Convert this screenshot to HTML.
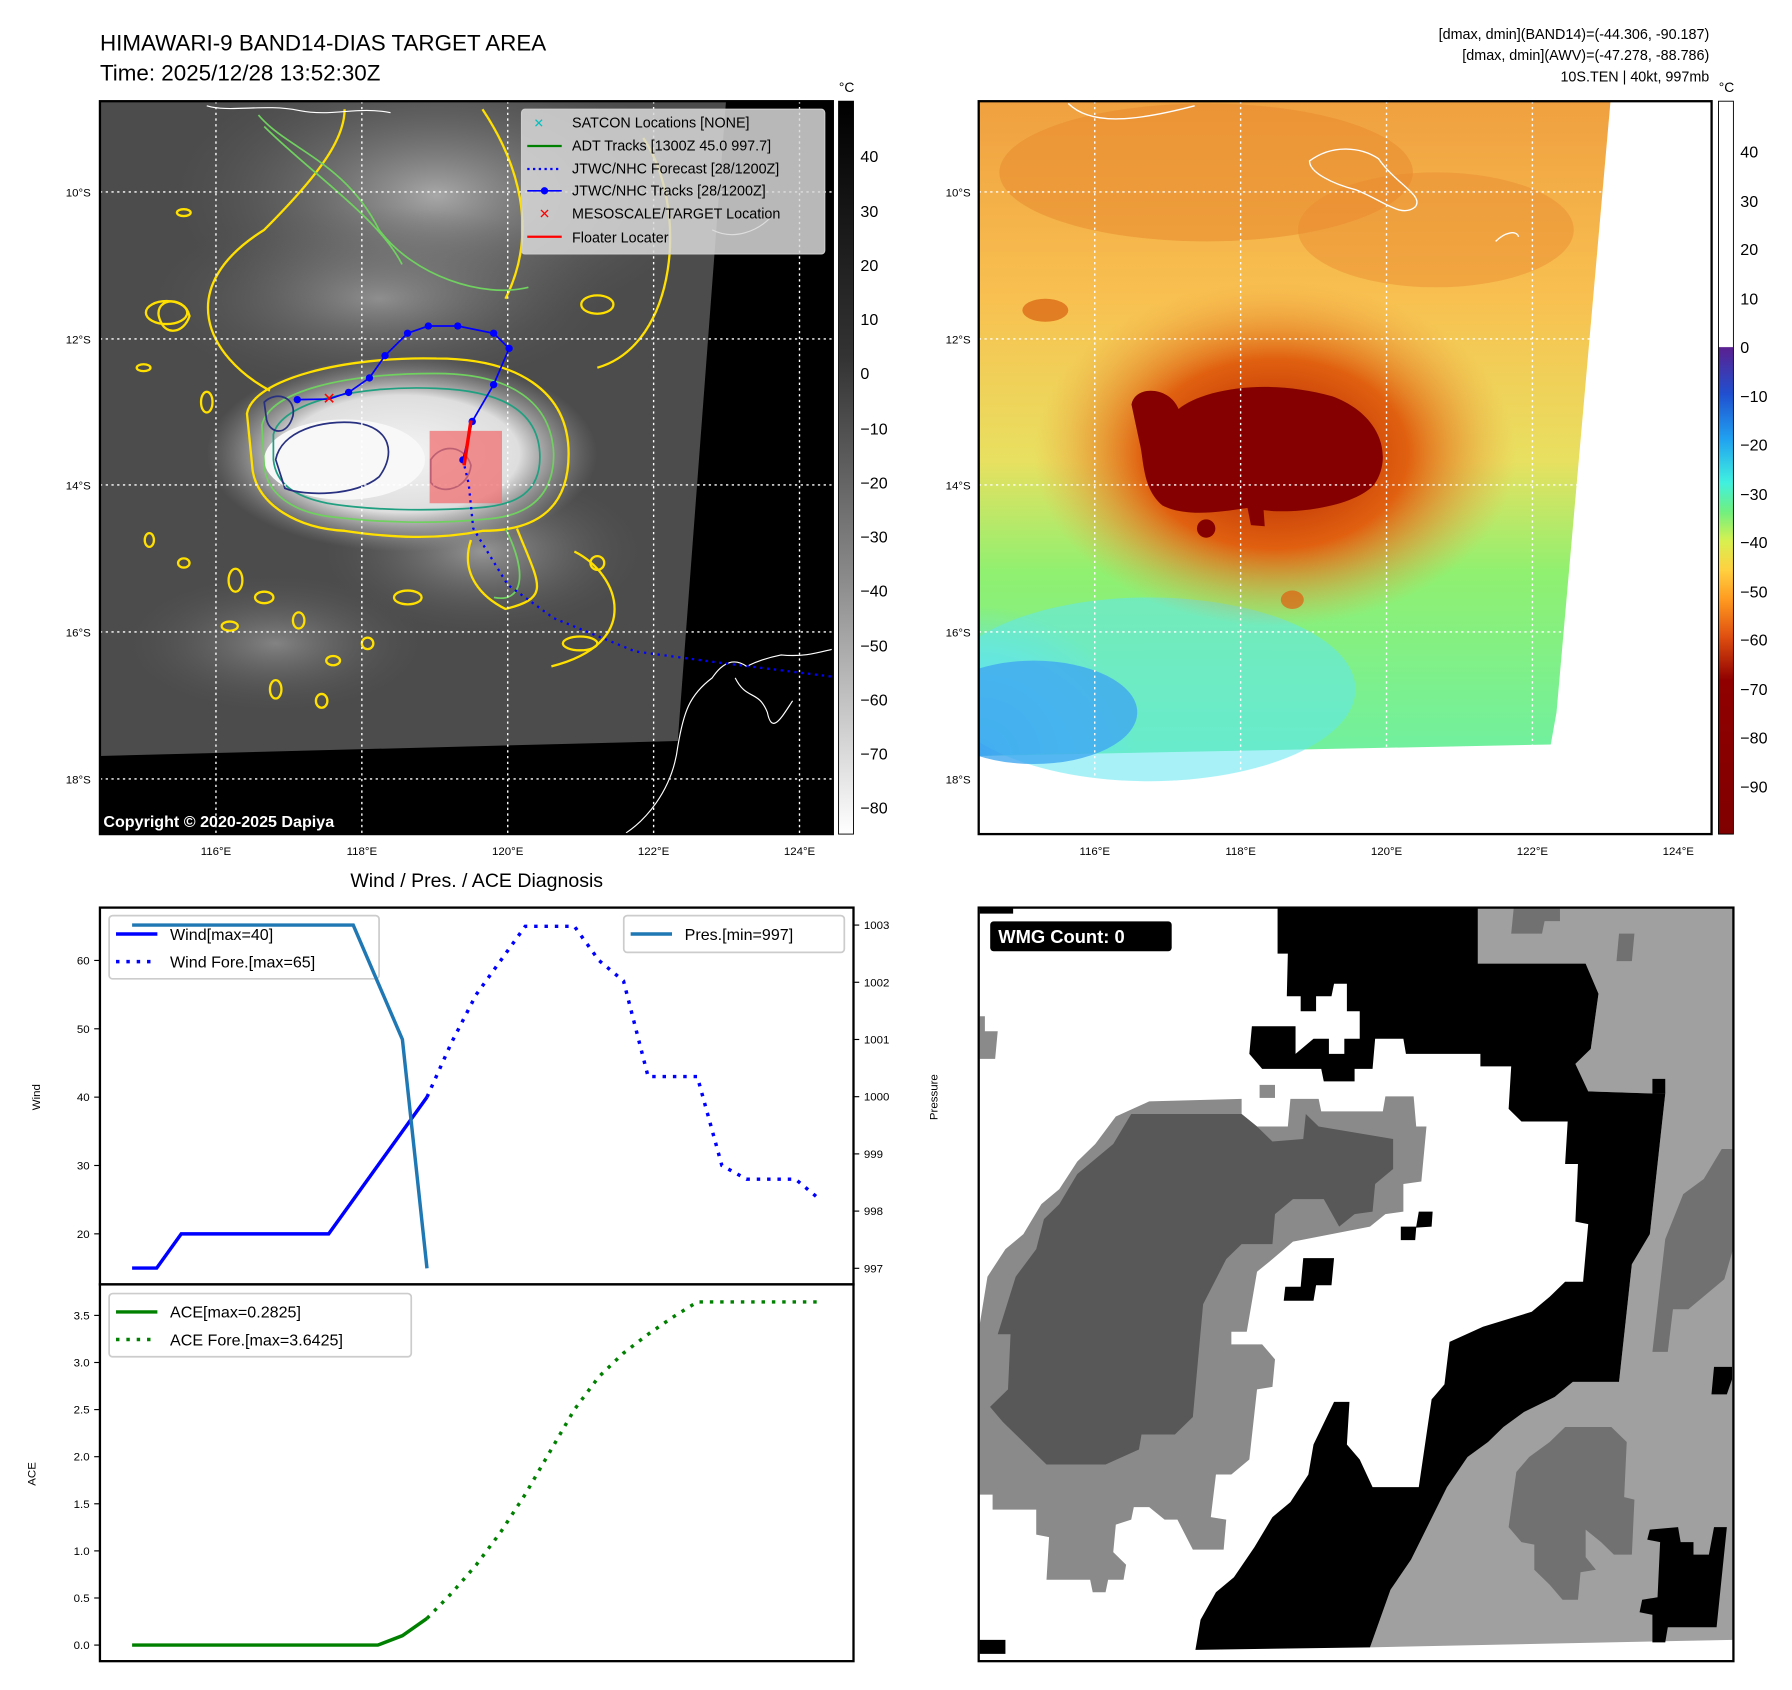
<!DOCTYPE html>
<html><head><meta charset="utf-8">
<style>
html,body{margin:0;padding:0;background:#fff;}
svg{display:block;font-family:"Liberation Sans","DejaVu Sans",sans-serif;}
</style></head>
<body>
<svg id="fig" width="1792" height="1690" viewBox="0 0 1560 1471" xmlns="http://www.w3.org/2000/svg">
<defs>
  <linearGradient id="cb1" x1="0" y1="0" x2="0" y2="1">
    <stop offset="0" stop-color="#000"/><stop offset="0.35" stop-color="#333"/><stop offset="0.65" stop-color="#8a8a8a"/><stop offset="1" stop-color="#fff"/>
  </linearGradient>
  <linearGradient id="cb2" x1="0" y1="0" x2="0" y2="1">
    <stop offset="0" stop-color="#fff"/><stop offset="0.335" stop-color="#fff"/>
    <stop offset="0.336" stop-color="#5a2090"/><stop offset="0.40" stop-color="#2050d0"/>
    <stop offset="0.46" stop-color="#20a0f0"/><stop offset="0.52" stop-color="#40f0e0"/>
    <stop offset="0.56" stop-color="#70f080"/><stop offset="0.60" stop-color="#d8f050"/>
    <stop offset="0.64" stop-color="#ffd040"/><stop offset="0.68" stop-color="#ff9a20"/>
    <stop offset="0.73" stop-color="#e05010"/><stop offset="0.79" stop-color="#900000"/>
    <stop offset="1" stop-color="#800000"/>
  </linearGradient>
  <linearGradient id="ir2" x1="0" y1="0" x2="0" y2="1">
    <stop offset="0" stop-color="#f0a040"/><stop offset="0.3" stop-color="#f8c050"/>
    <stop offset="0.55" stop-color="#e8e060"/><stop offset="0.72" stop-color="#90f070"/>
    <stop offset="1" stop-color="#70f0a0"/>
  </linearGradient>
  <radialGradient id="blueCorner" cx="0" cy="1" r="0.6">
    <stop offset="0" stop-color="#3aa0f0"/><stop offset="0.6" stop-color="#60e0f0" stop-opacity="0.7"/><stop offset="1" stop-color="#60e0f0" stop-opacity="0"/>
  </radialGradient>
  <radialGradient id="halo" cx="0.5" cy="0.5" r="0.5">
    <stop offset="0" stop-color="#b02000"/><stop offset="0.55" stop-color="#e06010"/><stop offset="1" stop-color="#f0a040" stop-opacity="0"/>
  </radialGradient>
  <radialGradient id="core1" cx="0.5" cy="0.5" r="0.5">
    <stop offset="0" stop-color="#f4f4f4"/><stop offset="0.6" stop-color="#dedede"/><stop offset="1" stop-color="#9a9a9a" stop-opacity="0"/>
  </radialGradient>
  <radialGradient id="cloudTop" cx="0.5" cy="0.5" r="0.5">
    <stop offset="0" stop-color="#a8a8a8"/><stop offset="1" stop-color="#5a5a5a" stop-opacity="0"/>
  </radialGradient>
  <clipPath id="clipL"><rect x="87" y="88" width="638" height="638"/></clipPath>
  <clipPath id="clipR"><rect x="852" y="88" width="638" height="638"/></clipPath>
  <clipPath id="clipW"><rect x="852" y="790" width="657" height="656"/></clipPath>
</defs>

<text x="87" y="44" font-size="19.5">HIMAWARI-9 BAND14-DIAS TARGET AREA</text>
<text x="87" y="70" font-size="19.5">Time: 2025/12/28 13:52:30Z</text>
<g font-size="12.5" text-anchor="end">
  <text x="1488" y="34">[dmax, dmin](BAND14)=(-44.306, -90.187)</text>
  <text x="1488" y="52">[dmax, dmin](AWV)=(-47.278, -88.786)</text>
  <text x="1488" y="71">10S.TEN | 40kt, 997mb</text>
</g>

<!-- Left IR map -->
<g clip-path="url(#clipL)">
  <rect x="87" y="88" width="638" height="638" fill="#000"/>
  <polygon points="87,88 632,88 590,645 87,658" fill="#4c4c4c"/>
  <ellipse cx="380" cy="170" rx="230" ry="120" fill="url(#cloudTop)"/>
  <ellipse cx="330" cy="260" rx="200" ry="80" fill="url(#cloudTop)" opacity="0.7"/>
  <ellipse cx="420" cy="480" rx="140" ry="70" fill="url(#cloudTop)" opacity="0.8"/>
  <ellipse cx="240" cy="560" rx="130" ry="60" fill="url(#cloudTop)" opacity="0.6"/>
  <ellipse cx="350" cy="395" rx="170" ry="85" fill="url(#core1)"/>
  <ellipse cx="300" cy="400" rx="70" ry="35" fill="#f8f8f8"/>
  <path d="M215,360 C220,330 300,310 380,312 C450,312 495,340 495,395 C495,440 470,462 420,462 C380,470 340,468 300,462 C260,460 225,440 220,410 Z" fill="none" stroke="#ffe000" stroke-width="2"/>
  <path d="M228,370 C235,340 300,325 380,325 C445,325 480,350 482,395 C482,432 460,450 420,452 C380,456 330,455 290,450 C255,446 232,430 230,405 Z" fill="none" stroke="#70d060" stroke-width="1.5"/>
  <path d="M238,378 C245,350 310,335 380,338 C440,340 470,360 470,398 C470,428 450,440 415,442 C370,445 320,444 285,438 C255,432 240,420 238,400 Z" fill="none" stroke="#20a080" stroke-width="1.5"/>
  <path d="M240,400 C245,375 280,365 310,368 C340,372 345,395 330,415 C310,432 265,432 248,425 Z M375,400 C385,385 405,388 410,405 C408,425 385,432 375,420 Z M230,350 C240,340 258,345 255,362 C250,380 235,378 232,365 Z" fill="none" stroke="#283080" stroke-width="1.5"/>
  <path d="M235,340 C180,310 150,250 230,200 C280,150 300,120 300,95 M420,95 C450,140 470,200 440,260 M560,120 C600,180 590,300 520,320 M450,460 C470,510 480,520 440,530 C420,520 400,500 410,470 M140,280 C130,260 160,255 165,275 C160,290 145,292 140,280 Z M500,480 C540,500 560,560 480,580" fill="none" stroke="#ffe000" stroke-width="2"/>
  <path d="M225,100 C250,130 300,140 330,200 C360,240 420,260 460,250 M230,110 C270,150 330,190 350,230 M440,460 C460,500 455,525 430,520" fill="none" stroke="#70d060" stroke-width="1.5"/>
  <g fill="none" stroke="#ffe000" stroke-width="2">
    <ellipse cx="205" cy="505" rx="6" ry="10"/><ellipse cx="230" cy="520" rx="8" ry="5"/><ellipse cx="260" cy="540" rx="5" ry="7"/>
    <ellipse cx="200" cy="545" rx="7" ry="4"/><ellipse cx="290" cy="575" rx="6" ry="4"/><ellipse cx="320" cy="560" rx="5" ry="5"/>
    <ellipse cx="355" cy="520" rx="12" ry="6"/><ellipse cx="240" cy="600" rx="5" ry="8"/><ellipse cx="160" cy="490" rx="5" ry="4"/>
    <ellipse cx="130" cy="470" rx="4" ry="6"/><ellipse cx="520" cy="490" rx="6" ry="6"/><ellipse cx="505" cy="560" rx="15" ry="6"/>
    <ellipse cx="180" cy="350" rx="5" ry="9"/><ellipse cx="145" cy="272" rx="18" ry="10"/><ellipse cx="520" cy="265" rx="14" ry="8"/>
    <ellipse cx="160" cy="185" rx="6" ry="3"/><ellipse cx="125" cy="320" rx="6" ry="3"/><ellipse cx="280" cy="610" rx="5" ry="6"/>
  </g>
  <path d="M545,725 C560,715 585,690 590,650 C595,620 600,605 620,590 C630,575 640,573 650,580 C660,575 670,572 680,570 C700,572 712,568 725,565 M640,590 C650,610 660,600 668,620 C672,640 680,625 690,610 M180,92 C200,98 230,90 260,96 C290,102 310,92 340,98 M620,200 C640,210 660,200 670,190" fill="none" stroke="#fff" stroke-width="1"/>
  <g stroke="#fff" stroke-width="1.2" stroke-dasharray="2,3">
    <line x1="188" y1="88" x2="188" y2="726"/><line x1="315" y1="88" x2="315" y2="726"/><line x1="442" y1="88" x2="442" y2="726"/><line x1="569" y1="88" x2="569" y2="726"/><line x1="696" y1="88" x2="696" y2="726"/>
    <line x1="87" y1="167" x2="725" y2="167"/><line x1="87" y1="295" x2="725" y2="295"/><line x1="87" y1="422" x2="725" y2="422"/><line x1="87" y1="550" x2="725" y2="550"/><line x1="87" y1="678" x2="725" y2="678"/>
  </g>
  <rect x="374" y="375" width="63" height="63" fill="#f07070" fill-opacity="0.75"/>
  <polyline points="403,400 408,421 412,460 442,509 482,538 553,567 628,577 725,589" fill="none" stroke="#0000ff" stroke-width="2" stroke-dasharray="2,4"/>
  <polyline points="258.8,347.8 286.5,347.3 303.5,341.5 321.6,328.9 335.2,309.5 354.8,290 372.9,283.7 398.5,283.7 429.7,290 443.2,303.2 429.7,334.8 411.1,366.8 403,400.3" fill="none" stroke="#0000ff" stroke-width="1.5"/>
  <g fill="#0000ff">
    <circle cx="258.8" cy="347.8" r="3.2"/><circle cx="303.5" cy="341.5" r="3.2"/><circle cx="321.6" cy="328.9" r="3.2"/><circle cx="335.2" cy="309.5" r="3.2"/><circle cx="354.8" cy="290" r="3.2"/><circle cx="372.9" cy="283.7" r="3.2"/><circle cx="398.5" cy="283.7" r="3.2"/><circle cx="429.7" cy="290" r="3.2"/><circle cx="443.2" cy="303.2" r="3.2"/><circle cx="429.7" cy="334.8" r="3.2"/><circle cx="411.1" cy="366.8" r="3.2"/><circle cx="403" cy="400.3" r="3.2"/>
  </g>
  <line x1="410" y1="366" x2="404" y2="405" stroke="#ff0000" stroke-width="3"/>
  <text x="286.5" y="351.5" font-size="14" font-weight="bold" fill="#ff0000" text-anchor="middle">✕</text>
  <g>
    <rect x="454" y="95" width="264" height="126" rx="3" fill="#d8d8d8" fill-opacity="0.85" stroke="#ccc"/>
    <g font-size="12.5">
      <text x="469" y="111" fill="#00c0c0" font-weight="bold" text-anchor="middle" font-size="11">✕</text><text x="498" y="111">SATCON Locations [NONE]</text>
      <line x1="459" y1="127" x2="489" y2="127" stroke="#008000" stroke-width="2"/><text x="498" y="131">ADT Tracks [1300Z 45.0 997.7]</text>
      <line x1="459" y1="147" x2="489" y2="147" stroke="#0000ff" stroke-width="2" stroke-dasharray="2,3"/><text x="498" y="151">JTWC/NHC Forecast [28/1200Z]</text>
      <line x1="459" y1="166" x2="489" y2="166" stroke="#0000ff" stroke-width="1.5"/><circle cx="474" cy="166" r="3.2" fill="#0000ff"/><text x="498" y="170">JTWC/NHC Tracks [28/1200Z]</text>
      <text x="474" y="190" fill="#ff0000" font-weight="bold" text-anchor="middle" font-size="12">✕</text><text x="498" y="190">MESOSCALE/TARGET Location</text>
      <line x1="459" y1="206" x2="489" y2="206" stroke="#ff0000" stroke-width="2"/><text x="498" y="211">Floater Locater</text>
    </g>
  </g>
  <text x="90" y="720" font-size="14" font-weight="bold" fill="#fff">Copyright © 2020-2025 Dapiya</text>
</g>
<rect x="87" y="88" width="638" height="638" fill="none" stroke="#000" stroke-width="2"/>
<g font-size="10" text-anchor="middle">
  <text x="188" y="744">116°E</text><text x="315" y="744">118°E</text><text x="442" y="744">120°E</text><text x="569" y="744">122°E</text><text x="696" y="744">124°E</text>
  <g text-anchor="end"><text x="79" y="171">10°S</text><text x="79" y="299">12°S</text><text x="79" y="426">14°S</text><text x="79" y="554">16°S</text><text x="79" y="682">18°S</text></g>
</g>
<g>
  <rect x="730" y="88" width="13" height="638" fill="url(#cb1)" stroke="#000" stroke-width="0.8"/>
  <text x="737" y="80" font-size="12" text-anchor="middle">°C</text>
  <g font-size="14">
    <text x="749" y="141">40</text><text x="749" y="189">30</text><text x="749" y="236">20</text><text x="749" y="283">10</text><text x="749" y="330">0</text>
    <text x="749" y="378">−10</text><text x="749" y="425">−20</text><text x="749" y="472">−30</text><text x="749" y="519">−40</text><text x="749" y="567">−50</text>
    <text x="749" y="614">−60</text><text x="749" y="661">−70</text><text x="749" y="708">−80</text>
  </g>
</g>

<!-- Right AWV map -->
<g clip-path="url(#clipR)">
  <rect x="852" y="88" width="638" height="638" fill="#fff"/>
  <polygon points="852,88 1402,88 1355,620 1350,648 852,658" fill="url(#ir2)"/>
  <polygon points="852,440 1000,560 1080,650 852,658" fill="url(#blueCorner)"/>
  <ellipse cx="1000" cy="600" rx="180" ry="80" fill="#60e8f0" opacity="0.55"/>
  <ellipse cx="900" cy="620" rx="90" ry="45" fill="#40a8f0" opacity="0.8"/>
  <ellipse cx="1050" cy="150" rx="180" ry="60" fill="#e88a30" opacity="0.55"/>
  <ellipse cx="1250" cy="200" rx="120" ry="50" fill="#e88a30" opacity="0.45"/>
  <ellipse cx="1110" cy="395" rx="210" ry="150" fill="url(#halo)"/>
  <path d="M985,352 C988,335 1018,336 1026,356 C1045,340 1100,328 1160,345 C1205,362 1212,400 1196,422 C1180,440 1130,448 1100,444 L1101,458 L1089,457 L1086,442 C1060,446 1032,450 1012,440 C994,425 996,400 992,385 Z" fill="#850000"/>
  <circle cx="1050" cy="460" r="8" fill="#850000"/>
  <ellipse cx="910" cy="270" rx="20" ry="10" fill="#d86010" opacity="0.7"/>
  <ellipse cx="1125" cy="522" rx="10" ry="8" fill="#e06010" opacity="0.7"/>
  <path d="M1140,140 C1160,125 1185,128 1200,138 C1215,160 1240,170 1232,180 C1220,190 1205,175 1180,165 C1160,160 1140,150 1140,140 Z M930,90 C950,110 990,105 1040,92 M1302,210 C1310,202 1320,200 1322,206" fill="none" stroke="#fff" stroke-width="1.2"/>
  <g stroke="#fff" stroke-width="1.2" stroke-dasharray="2,3">
    <line x1="953" y1="88" x2="953" y2="726"/><line x1="1080" y1="88" x2="1080" y2="726"/><line x1="1207" y1="88" x2="1207" y2="726"/><line x1="1334" y1="88" x2="1334" y2="726"/>
    <line x1="852" y1="167" x2="1490" y2="167"/><line x1="852" y1="295" x2="1490" y2="295"/><line x1="852" y1="422" x2="1490" y2="422"/><line x1="852" y1="550" x2="1490" y2="550"/>
  </g>
</g>
<rect x="852" y="88" width="638" height="638" fill="none" stroke="#000" stroke-width="2"/>
<g font-size="10" text-anchor="middle">
  <text x="953" y="744">116°E</text><text x="1080" y="744">118°E</text><text x="1207" y="744">120°E</text><text x="1334" y="744">122°E</text><text x="1461" y="744">124°E</text>
  <g text-anchor="end"><text x="845" y="171">10°S</text><text x="845" y="299">12°S</text><text x="845" y="426">14°S</text><text x="845" y="554">16°S</text><text x="845" y="682">18°S</text></g>
</g>
<g>
  <rect x="1496" y="88" width="13" height="638" fill="url(#cb2)" stroke="#000" stroke-width="0.8"/>
  <text x="1503" y="80" font-size="12" text-anchor="middle">°C</text>
  <g font-size="14">
    <text x="1515" y="137">40</text><text x="1515" y="180">30</text><text x="1515" y="222">20</text><text x="1515" y="265">10</text><text x="1515" y="307">0</text>
    <text x="1515" y="350">−10</text><text x="1515" y="392">−20</text><text x="1515" y="435">−30</text><text x="1515" y="477">−40</text><text x="1515" y="520">−50</text>
    <text x="1515" y="562">−60</text><text x="1515" y="605">−70</text><text x="1515" y="647">−80</text><text x="1515" y="690">−90</text>
  </g>
</g>

<text x="415" y="772" font-size="17" text-anchor="middle">Wind / Pres. / ACE Diagnosis</text>
<g id="chart"></g>

<!-- WMG panel -->
<g clip-path="url(#clipW)">
  <rect x="852" y="790" width="657" height="656" fill="#fff"/>
  <g transform="translate(839.5,786.5) scale(0.447,0.436)">
    <polygon fill="#a0a0a0" points="1000,8 1497,8 1497,1470 790,1485 830,1370 870,1310 940,1165 980,1105 1020,1075 1050,1045 1090,1015 1150,985 1185,955 1275,955 1300,720 1335,660 1365,380 1215,375 1190,320 1220,290 1235,180 1210,120 1000,120"/>
    <polygon fill="#000" points="610,8 1000,8 1000,120 1210,120 1235,180 1220,290 1190,320 1215,375 1365,380 1335,660 1300,720 1275,955 1185,955 1150,985 1090,1015 1050,1045 1020,1075 980,1105 940,1165 870,1310 830,1370 790,1485 450,1490 460,1430 490,1375 525,1345 565,1285 600,1225 635,1195 670,1140 680,1080 720,995 750,995 745,1080 770,1110 795,1165 885,1165 910,990 935,960 945,875 1010,845 1105,815 1140,785 1170,755 1205,755 1215,640 1190,635 1195,520 1170,520 1175,435 1085,435 1060,410 1065,325 1005,325 1005,300 860,300 855,270 800,270 795,330 760,330 760,355 700,355 695,330 580,330 555,300 560,245 645,245 645,300 680,270 710,270 710,300 740,300 740,270 770,270 770,215 745,215 745,160 720,160 715,185 685,185 685,215 655,215 655,185 628,185 630,100 610,100"/>
    <polygon fill="#8a8a8a" points="30,840 45,745 80,690 115,660 150,600 185,570 220,515 255,480 295,425 360,395 540,390 540,420 570,445 630,445 635,390 690,390 695,415 815,415 820,385 875,385 880,445 900,445 890,555 855,560 855,615 820,620 790,645 640,675 600,710 570,735 550,855 520,855 520,880 580,880 605,910 600,965 570,970 555,1110 520,1140 490,1140 480,1225 510,1230 505,1290 445,1290 415,1230 390,1230 360,1205 330,1205 325,1230 295,1240 290,1295 315,1320 310,1350 280,1350 275,1375 250,1375 245,1350 160,1350 165,1265 140,1260 140,1210 55,1210 55,1180 30,1180"/>
    <polygon fill="#585858" points="65,860 100,745 140,690 155,630 185,600 220,540 255,510 290,480 325,420 540,420 570,445 600,475 660,470 665,420 690,445 835,470 835,530 800,560 795,615 760,620 730,645 700,590 640,590 605,620 600,680 540,680 510,710 465,800 445,1025 410,1060 345,1060 340,1090 275,1120 160,1120 130,1090 100,1060 75,1035 50,1005 85,970 90,860"/>
    <polygon fill="#717171" points="1340,895 1365,670 1400,580 1440,550 1475,490 1497,490 1497,690 1480,750 1445,780 1410,810 1380,810 1370,895"/>
    <polygon fill="#717171" points="1060,1245 1075,1135 1100,1105 1140,1075 1170,1045 1260,1045 1290,1075 1285,1185 1305,1190 1300,1300 1265,1300 1240,1275 1210,1250 1210,1305 1230,1330 1200,1335 1195,1390 1165,1390 1140,1360 1110,1330 1110,1280 1085,1275"/>
    <polygon fill="#717171" points="1070,8 1160,8 1160,35 1130,35 1125,60 1065,60"/>
    <polygon fill="#717171" points="1275,60 1305,60 1300,115 1270,115"/>
    <polygon fill="#000" points="1335,1250 1390,1245 1395,1275 1420,1275 1420,1300 1450,1300 1460,1245 1485,1245 1465,1445 1370,1445 1365,1475 1340,1475 1340,1420 1315,1415 1320,1390 1350,1385 1355,1275 1330,1270"/>
    <polygon fill="#000" points="1460,925 1495,925 1495,950 1485,980 1455,980"/>
    <polygon fill="#000" points="1340,350 1365,350 1365,380 1340,380"/>
    <polygon fill="#000" points="850,645 880,645 885,615 912,615 910,645 880,647 878,672 850,672"/>
    <polygon fill="#000" points="660,708 720,708 715,762 685,762 680,793 622,793 625,765 655,765"/>
    <polygon fill="#000" points="30,1470 80,1470 80,1498 30,1498"/>
    <polygon fill="#000" points="30,8 95,8 95,20 30,20"/>
    <polygon fill="#8a8a8a" points="30,225 40,225 40,255 65,255 60,310 30,310"/>
    <polygon fill="#8a8a8a" points="575,362 605,362 605,388 575,388"/>
  </g>
  <g>
    <rect x="862" y="802" width="158" height="26" rx="3" fill="#000"/>
    <text x="869" y="821" font-size="16" font-weight="bold" fill="#fff">WMG Count: 0</text>
  </g>
</g>
<rect x="852" y="790" width="657" height="656" fill="none" stroke="#000" stroke-width="2"/>

<script>
// ---- chart data ----
const windObs = [15,15,20,20,20,20,20,20,20,25,30,35,40];
const windFore = [40,48,55,60,65,65,65,60,57,43,43,43,30,28,28,28,25];
const presObs = [1003,1003,1003,1003,1003,1003,1003,1003,1003,1003,1002,1001,997];
const aceObs = [0,0,0,0,0,0,0,0,0,0,0,0.1,0.2825];
const aceFore = [0.2825,0.55,0.85,1.2,1.6,2.05,2.5,2.85,3.1,3.3,3.48,3.6425,3.6425,3.6425,3.6425,3.6425,3.6425];
const windTicks = [20,30,40,50,60];
const presTicks = [997,998,999,1000,1001,1002,1003];
const aceTicks = [0.0,0.5,1.0,1.5,2.0,2.5,3.0,3.5];
const foreStart = 12;

(function () {
  const NS = 'http://www.w3.org/2000/svg';
  const chart = document.getElementById('chart');
  const xS = i => 115 + i * 21.39;
  const yWind = v => 1074 - (v - 20) * 5.95;
  const yPres = p => 1104 - (p - 997) * 49.8;
  const yAce = a => 1432 - a * 82;

  function mk(tag, attrs, parent) {
    const e = document.createElementNS(NS, tag);
    for (const k in attrs) e.setAttribute(k, attrs[k]);
    (parent || chart).appendChild(e);
    return e;
  }
  function poly(vals, off, xf, yf, stroke, dash, name) {
    const pts = vals.map((v, i) => xf(i + off).toFixed(1) + ',' + yf(v).toFixed(1)).join(' ');
    const p = mk('polyline', {points: pts, fill: 'none', stroke: stroke, 'stroke-width': 3});
    if (dash) p.setAttribute('stroke-dasharray', dash);
    
    
    return p;
  }
  function legend(x, y, w, h, items, name) {
    const g = mk('g', {});
    
    
    mk('rect', {x: x, y: y, width: w, height: h, rx: 3, fill: '#fff', 'fill-opacity': 0.8, stroke: '#ccc', 'stroke-width': 1.5}, g);
    items.forEach((it, k) => {
      const yy = y + 16 + k * 24;
      const l = mk('line', {x1: x + 6, x2: x + 42, y1: yy, y2: yy, stroke: it[1], 'stroke-width': 3}, g);
      if (it[2]) l.setAttribute('stroke-dasharray', it[2]);
      const t = mk('text', {x: x + 53, y: yy + 5, 'font-size': 14}, g);
      t.textContent = it[0];
    });
  }
  const frameTop = mk('rect', {x: 87, y: 790, width: 656, height: 328, fill: 'none', stroke: '#000', 'stroke-width': 2});
  
  
  const frameBot = mk('rect', {x: 87, y: 1118, width: 656, height: 328, fill: 'none', stroke: '#000', 'stroke-width': 2});
  
  

  windTicks.forEach(v => {
    mk('line', {x1: 82, x2: 87, y1: yWind(v), y2: yWind(v), stroke: '#000'});
    const t = mk('text', {x: 78, y: yWind(v) + 3.5, 'font-size': 10, 'text-anchor': 'end'});
    t.textContent = v;
    
    
  });
  presTicks.forEach(v => {
    mk('line', {x1: 743, x2: 748, y1: yPres(v), y2: yPres(v), stroke: '#000'});
    const t = mk('text', {x: 752, y: yPres(v) + 3.5, 'font-size': 10});
    t.textContent = v;
    
    
  });
  aceTicks.forEach(v => {
    mk('line', {x1: 82, x2: 87, y1: yAce(v), y2: yAce(v), stroke: '#000'});
    const t = mk('text', {x: 78, y: yAce(v) + 3.5, 'font-size': 10, 'text-anchor': 'end'});
    t.textContent = v.toFixed(1);
    
    
  });
  const yl1 = mk('text', {x: 0, y: 0, 'font-size': 10, 'text-anchor': 'middle', transform: 'translate(35,955) rotate(-90)'});
  yl1.textContent = 'Wind';
  
  
  const yl2 = mk('text', {x: 0, y: 0, 'font-size': 10, 'text-anchor': 'middle', transform: 'translate(816,955) rotate(-90)'});
  yl2.textContent = 'Pressure';
  
  
  const yl3 = mk('text', {x: 0, y: 0, 'font-size': 10, 'text-anchor': 'middle', transform: 'translate(31,1283) rotate(-90)'});
  yl3.textContent = 'ACE';
  
  

  poly(windObs, 0, xS, yWind, '#0000ff', null, 'wind-line');
  poly(windFore, foreStart, xS, yWind, '#0000ff', '3,6', 'wind-forecast-line');
  legend(95, 797, 235, 55, [['Wind[max=40]', '#0000ff'], ['Wind Fore.[max=65]', '#0000ff', '3,6']], 'wind-legend');
  poly(presObs, 0, xS, yPres, '#1f77b4', null, 'pressure-line');
  legend(543, 797, 192, 32, [['Pres.[min=997]', '#1f77b4']], 'pressure-legend');
  poly(aceObs, 0, xS, yAce, '#008000', null, 'ace-line');
  poly(aceFore, foreStart, xS, yAce, '#008000', '3,6', 'ace-forecast-line');
  legend(95, 1126, 263, 55, [['ACE[max=0.2825]', '#008000'], ['ACE Fore.[max=3.6425]', '#008000', '3,6']], 'ace-legend');
})();
</script>
</body></html>
